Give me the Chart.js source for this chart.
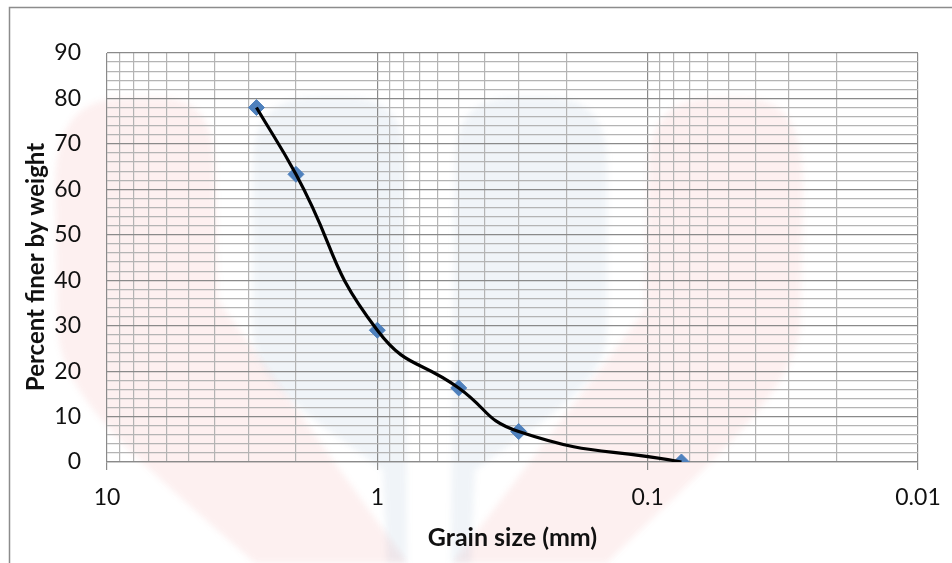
<!DOCTYPE html>
<html>
<head>
<meta charset="utf-8">
<script src="https://cdn.jsdelivr.net/npm/chart.js@4.4.1/dist/chart.umd.min.js"></script>
<style>
  html, body { margin: 0; padding: 0; background: #fff; }
  #wrap { width: 952px; height: 563px; position: relative; }
</style>
</head>
<body>
<div id="wrap"><canvas id="graph"></canvas></div>
<script>
var grainSize = [2.8, 2.0, 1.0, 0.5, 0.3, 0.075];
var percentFiner = [78, 63.3, 29.0, 16.3, 6.7, 0];

// axes
var majorTicks = [10, 1, 0.1, 0.01];
var minorMultipliers = [2, 3, 4, 5, 6, 7, 8, 9];
var yMax = 90, yStep = 2, yLabelStep = 10;

var xTitle = 'Grain size (mm)';
var yTitle = 'Percent finer by weight';

// lignes de grille log : 1..9 x chaque decade
var gridValues = [];
majorTicks.forEach(function (d) {
    gridValues.push(d);
    if (d < 10) {
        minorMultipliers.forEach(function (m) { gridValues.push(m * d); });
    }
});

var points = grainSize.map(function (g, i) { return { x: g, y: percentFiner[i] }; });

var isMajorX = function (v) {
    return majorTicks.some(function (m) { return Math.abs(v - m) < m * 1e-6; });
};

/* filigrane en fond (logo pale) + titre Y + cadre */
var filigrane = {
    id: 'filigrane',
    beforeDraw: function (chart) {
        var c = chart.ctx;
        c.save();
        c.filter = 'blur(3px)';
        // rouge gauche
        c.fillStyle = 'rgba(235, 70, 70, 0.08)';
        c.beginPath();
        c.moveTo(55, 190);
        c.bezierCurveTo(55, 110, 90, 98, 130, 98);
        c.lineTo(160, 98);
        c.bezierCurveTo(205, 98, 215, 130, 215, 175);
        c.lineTo(218, 300);
        c.lineTo(407, 563);
        c.lineTo(255, 563);
        c.bezierCurveTo(150, 470, 60, 400, 58, 330);
        c.closePath();
        c.fill();
        // rouge droite
        c.beginPath();
        c.moveTo(648, 175);
        c.bezierCurveTo(648, 120, 670, 98, 715, 98);
        c.lineTo(740, 98);
        c.bezierCurveTo(790, 98, 803, 130, 803, 190);
        c.lineTo(800, 330);
        c.bezierCurveTo(790, 400, 700, 470, 607, 563);
        c.lineTo(453, 563);
        c.lineTo(645, 310);
        c.closePath();
        c.fill();
        // bleu gauche
        c.fillStyle = 'rgba(70, 120, 170, 0.08)';
        c.beginPath();
        c.moveTo(253, 165);
        c.bezierCurveTo(253, 115, 275, 97, 320, 97);
        c.lineTo(345, 97);
        c.bezierCurveTo(390, 97, 405, 120, 405, 165);
        c.lineTo(407, 563);
        c.lineTo(387, 563);
        c.lineTo(383, 470);
        c.bezierCurveTo(300, 410, 253, 380, 253, 330);
        c.closePath();
        c.fill();
        // bleu droite
        c.beginPath();
        c.moveTo(455, 165);
        c.bezierCurveTo(455, 115, 475, 97, 520, 97);
        c.lineTo(545, 97);
        c.bezierCurveTo(590, 97, 607, 120, 607, 165);
        c.lineTo(607, 330);
        c.bezierCurveTo(607, 380, 560, 410, 475, 470);
        c.lineTo(471, 563);
        c.lineTo(451, 563);
        c.closePath();
        c.fill();
        c.restore();
    },
    afterDraw: function (chart) {
        var c = chart.ctx;
        c.save();
        // titre de l'axe Y, un peu sous le centre comme dans Excel
        c.translate(36, 267);
        c.rotate(-Math.PI / 2);
        c.fillStyle = '#111';
        c.font = 'bold 24px Lato';
        c.textAlign = 'center';
        c.textBaseline = 'middle';
        c.fillText(yTitle, 0, 0);
        c.restore();

        // cadre exterieur du graphique
        c.save();
        c.strokeStyle = '#8c8c8c';
        c.lineWidth = 1.5;
        c.strokeRect(9.5, 7.5, 1000, 1000);
        c.restore();
    }
};

var ctx = document.getElementById('graph').getContext('2d');

var courbe = new Chart(ctx, {
    type: 'scatter',
    data: {
        datasets: [{
            label: 'courbe',
            data: points,
            showLine: true,
            borderColor: '#000000',
            borderWidth: 3.2,
            tension: 0.5,
            pointRadius: 0,
            pointHoverRadius: 0,
            order: 0
        }, {
            label: 'points',
            data: points,
            showLine: false,
            pointStyle: 'rectRot',
            pointRadius: 8,
            pointBorderWidth: 1,
            backgroundColor: '#4F81BD',
            borderColor: '#4F81BD',
            order: 1
        }]
    },
    options: {
        responsive: true,
        maintainAspectRatio: false,
        animation: false,
        layout: {
            padding: { left: 0, top: 53, right: 34, bottom: 0 }
        },
        plugins: {
            legend: { display: false },
            tooltip: { enabled: false }
        },
        scales: {
            x: {
                type: 'logarithmic',
                reverse: true,
                min: 0.01,
                max: 10,
                afterBuildTicks: function (scale) {
                    scale.ticks = gridValues.map(function (v) { return { value: v }; });
                },
                afterFit: function (scale) { scale.height = 101; },
                grid: {
                    color: function (c) { return isMajorX(c.tick.value) ? '#8a8a8a' : '#b4b4b4'; },
                    lineWidth: 1.2,
                    drawTicks: true,
                    tickLength: 8,
                    tickColor: function (c) { return isMajorX(c.tick.value) ? '#8a8a8a' : 'rgba(0,0,0,0)'; }
                },
                border: { display: true, color: '#8a8a8a', width: 1.2 },
                ticks: {
                    autoSkip: false,
                    maxRotation: 0,
                    padding: 14,
                    color: '#111',
                    font: { family: 'Lato', size: 23 },
                    callback: function (value) { return isMajorX(value) ? String(value) : ''; }
                },
                title: {
                    display: true,
                    text: xTitle,
                    color: '#111',
                    font: { family: 'Lato', size: 25, weight: 'bold' },
                    padding: { top: 0, bottom: 10 }
                }
            },
            y: {
                min: 0,
                max: yMax,
                afterFit: function (scale) { scale.width = 107; },
                grid: {
                    color: function (c) { return c.tick.value % yLabelStep === 0 ? '#8a8a8a' : '#b4b4b4'; },
                    lineWidth: 1.2,
                    drawTicks: false
                },
                border: { display: false },
                ticks: {
                    stepSize: yStep,
                    autoSkip: false,
                    padding: 26,
                    color: '#111',
                    font: { family: 'Lato', size: 23 },
                    callback: function (value) { return value % yLabelStep === 0 ? value : ''; }
                }
            }
        }
    },
    plugins: [filigrane]
});
</script>
</body>
</html>
